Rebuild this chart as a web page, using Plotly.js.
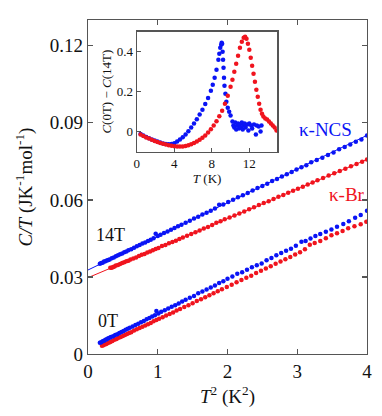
<!DOCTYPE html>
<html>
<head>
<meta charset="utf-8">
<script src="https://cdn.plot.ly/plotly-3.0.1.min.js"></script>
<style>
  html, body { margin: 0; padding: 0; background: #fff; }
  #chart { width: 382px; height: 416px; }
</style>
</head>
<body>
<div id="chart"></div>
<script>
// main panel: C/T vs T^2
var t2Ncs0 = [0.17,0.19,0.21,0.23,0.25,0.27,0.29,0.31,0.33,0.36,0.39,0.42,0.45,0.48,0.51,0.54,0.57,0.60,0.64,0.68,0.72,0.76,0.80,0.84,0.88,0.92,0.96,0.98,1.01,1.05,1.10,1.15,1.20,1.25,1.30,1.35,1.40,1.46,1.52,1.58,1.64,1.70,1.76,1.82,1.88,1.94,2.00,2.07,2.14,2.21,2.28,2.35,2.42,2.49,2.56,2.63,2.70,2.77,2.84,2.91,2.98,3.06,3.12,3.19,3.26,3.33,3.41,3.49,3.57,3.66,3.74,3.83,3.91,4.00];
var ctNcs0 = [0.0044,0.0046,0.0050,0.0052,0.0055,0.0057,0.0061,0.0063,0.0066,0.0069,0.0074,0.0077,0.0082,0.0086,0.0090,0.0094,0.0098,0.0102,0.0107,0.0113,0.0118,0.0124,0.0128,0.0135,0.0140,0.0146,0.0151,0.0167,0.0158,0.0164,0.0170,0.0177,0.0184,0.0190,0.0197,0.0204,0.0211,0.0219,0.0226,0.0236,0.0243,0.0251,0.0259,0.0267,0.0276,0.0283,0.0293,0.0302,0.0312,0.0318,0.0328,0.0338,0.0345,0.0352,0.0365,0.0374,0.0384,0.0393,0.0402,0.0410,0.0421,0.0437,0.0440,0.0450,0.0459,0.0467,0.0476,0.0485,0.0495,0.0506,0.0517,0.0530,0.0541,0.0558];

var t2Br0 = [0.20,0.22,0.24,0.26,0.28,0.30,0.32,0.35,0.38,0.41,0.44,0.47,0.50,0.53,0.56,0.59,0.62,0.66,0.70,0.74,0.78,0.82,0.86,0.90,0.94,0.98,1.02,1.07,1.12,1.17,1.22,1.27,1.32,1.38,1.44,1.50,1.56,1.62,1.68,1.74,1.80,1.86,1.92,1.99,2.06,2.13,2.20,2.27,2.34,2.41,2.48,2.55,2.62,2.69,2.76,2.83,2.90,2.97,3.04,3.11,3.18,3.25,3.33,3.41,3.49,3.57,3.65,3.73,3.82,3.91,3.99];
var ctBr0 = [0.0032,0.0034,0.0037,0.0039,0.0042,0.0045,0.0047,0.0051,0.0055,0.0058,0.0063,0.0066,0.0070,0.0074,0.0078,0.0082,0.0085,0.0091,0.0096,0.0101,0.0106,0.0111,0.0116,0.0121,0.0127,0.0132,0.0137,0.0143,0.0150,0.0156,0.0162,0.0169,0.0175,0.0183,0.0190,0.0198,0.0206,0.0213,0.0221,0.0229,0.0236,0.0244,0.0252,0.0261,0.0270,0.0279,0.0288,0.0297,0.0305,0.0315,0.0324,0.0333,0.0342,0.0351,0.0360,0.0369,0.0378,0.0387,0.0396,0.0408,0.0425,0.0432,0.0440,0.0451,0.0462,0.0470,0.0479,0.0489,0.0497,0.0505,0.0515];

var t2Ncs14 = [0.17,0.19,0.21,0.23,0.25,0.27,0.29,0.31,0.34,0.37,0.40,0.43,0.46,0.49,0.52,0.55,0.58,0.62,0.66,0.70,0.74,0.78,0.82,0.86,0.90,0.94,0.97,1.00,1.04,1.09,1.14,1.19,1.24,1.29,1.34,1.40,1.46,1.52,1.58,1.64,1.70,1.76,1.82,1.88,1.94,2.01,2.08,2.15,2.22,2.29,2.36,2.43,2.50,2.57,2.64,2.71,2.78,2.85,2.92,2.99,3.06,3.13,3.20,3.28,3.36,3.44,3.52,3.60,3.68,3.76,3.84,3.92,4.00];
var ctNcs14 = [0.0351,0.0354,0.0355,0.0360,0.0361,0.0364,0.0366,0.0368,0.0373,0.0376,0.0380,0.0384,0.0388,0.0391,0.0396,0.0399,0.0404,0.0408,0.0414,0.0419,0.0424,0.0430,0.0434,0.0440,0.0445,0.0451,0.0468,0.0459,0.0464,0.0471,0.0477,0.0484,0.0490,0.0497,0.0503,0.0511,0.0519,0.0527,0.0534,0.0543,0.0550,0.0558,0.0566,0.0581,0.0582,0.0592,0.0600,0.0610,0.0618,0.0627,0.0636,0.0646,0.0654,0.0663,0.0673,0.0681,0.0691,0.0700,0.0708,0.0718,0.0727,0.0735,0.0746,0.0755,0.0764,0.0775,0.0784,0.0797,0.0806,0.0815,0.0826,0.0835,0.0850];

var t2Br14 = [0.32,0.34,0.36,0.38,0.40,0.43,0.46,0.49,0.52,0.55,0.58,0.61,0.65,0.69,0.73,0.77,0.81,0.85,0.89,0.93,0.97,1.01,1.06,1.11,1.16,1.21,1.26,1.31,1.36,1.42,1.48,1.54,1.60,1.66,1.72,1.78,1.84,1.90,1.96,2.03,2.10,2.17,2.24,2.31,2.38,2.45,2.52,2.59,2.66,2.73,2.80,2.87,2.94,3.01,3.08,3.15,3.22,3.29,3.37,3.45,3.53,3.61,3.69,3.77,3.85,3.93,4.00];
var ctBr14 = [0.0336,0.0336,0.0339,0.0341,0.0344,0.0346,0.0350,0.0354,0.0357,0.0361,0.0363,0.0368,0.0372,0.0376,0.0381,0.0386,0.0389,0.0395,0.0399,0.0404,0.0409,0.0413,0.0420,0.0424,0.0431,0.0436,0.0441,0.0448,0.0453,0.0460,0.0467,0.0474,0.0481,0.0488,0.0494,0.0502,0.0511,0.0517,0.0524,0.0531,0.0539,0.0547,0.0555,0.0563,0.0571,0.0580,0.0588,0.0595,0.0603,0.0612,0.0619,0.0628,0.0635,0.0643,0.0651,0.0660,0.0668,0.0676,0.0685,0.0695,0.0704,0.0712,0.0721,0.0731,0.0740,0.0748,0.0757];

// linear fits to the 14T data
var fitX = [0, 4];
var fitNcs = [0.0327, 0.0851];
var fitBr = [0.0297, 0.0757];

// inset: C(0T) - C(14T) vs T
var tNcs = [0.4,0.7,1.0,1.3,1.6,1.9,2.2,2.5,2.8,3.1,3.4,3.7,4.0,4.3,4.6,4.9,5.2,5.5,5.8,6.1,6.4,6.7,7.0,7.3,7.6,7.9,8.1,8.3,8.5,8.7,8.8,8.9,9.0,9.05,9.1,9.15,9.2,9.25,9.3,9.35,9.45,9.55,9.7,9.85,10.0,10.2,10.3,10.4,10.5,10.6,10.7,10.8,10.9,11.0,11.1,11.2,11.3,11.4,11.5,11.6,11.8,11.9,12.0,12.2,12.3,12.5,12.7,12.8,13.0,13.2,13.3];
var dcNcs = [-0.012,-0.020,-0.027,-0.033,-0.039,-0.045,-0.050,-0.055,-0.059,-0.062,-0.063,-0.062,-0.058,-0.050,-0.040,-0.028,-0.014,0.002,0.020,0.040,0.062,0.085,0.110,0.138,0.168,0.205,0.235,0.270,0.310,0.360,0.390,0.420,0.435,0.445,0.440,0.400,0.360,0.320,0.270,0.230,0.190,0.150,0.120,0.100,0.080,0.050,0.030,0.020,0.045,0.010,0.030,0.040,0.015,0.035,0.020,0.045,0.010,0.030,0.040,0.020,0.035,0.005,0.040,0.030,0.015,0.035,-0.015,0.030,0.025,0.000,0.030];

var tBr = [0.4,0.7,1.0,1.3,1.6,1.9,2.2,2.5,2.8,3.1,3.4,3.7,4.0,4.3,4.6,4.9,5.2,5.5,5.8,6.1,6.4,6.7,7.0,7.3,7.6,7.9,8.2,8.5,8.8,9.1,9.4,9.7,10.0,10.2,10.4,10.6,10.8,11.0,11.2,11.4,11.55,11.7,11.85,12.0,12.15,12.3,12.45,12.6,12.75,12.9,13.05,13.2,13.35,13.5,13.7,13.9,14.1,14.3,14.5,14.7,14.9];
var dcBr = [-0.015,-0.022,-0.029,-0.035,-0.041,-0.047,-0.052,-0.057,-0.061,-0.065,-0.068,-0.071,-0.073,-0.074,-0.075,-0.074,-0.072,-0.068,-0.063,-0.057,-0.050,-0.041,-0.031,-0.019,-0.005,0.012,0.030,0.052,0.077,0.105,0.140,0.180,0.225,0.260,0.300,0.340,0.380,0.420,0.450,0.470,0.475,0.465,0.440,0.410,0.370,0.330,0.290,0.250,0.210,0.175,0.140,0.110,0.090,0.075,0.065,0.060,0.050,0.040,0.030,0.020,0.005];

var blue = 'rgb(10,20,245)';
var red = 'rgb(240,20,30)';
var serif = "'Liberation Serif', 'Times New Roman', serif";

function dots(x, y, color, xa, ya) {
  return {x: x, y: y, type: 'scatter', mode: 'markers', xaxis: xa, yaxis: ya,
    marker: {color: color, size: 4.5}, hoverinfo: 'skip'};
}

var data = [
  {x: fitX, y: fitBr, type: 'scatter', mode: 'lines', line: {color: red, width: 1}},
  {x: fitX, y: fitNcs, type: 'scatter', mode: 'lines', line: {color: blue, width: 1}},
  dots(t2Br0, ctBr0, red, 'x', 'y'),
  dots(t2Ncs0, ctNcs0, blue, 'x', 'y'),
  dots(t2Br14, ctBr14, red, 'x', 'y'),
  dots(t2Ncs14, ctNcs14, blue, 'x', 'y'),
  dots(tNcs, dcNcs, blue, 'x2', 'y2'),
  dots(tBr, dcBr, red, 'x2', 'y2')
];

var axisCommon = {
  showgrid: false, zeroline: false, showline: true, linecolor: '#555', linewidth: 1.3,
  ticks: 'inside', tickcolor: '#555', tickwidth: 1.3, ticklen: 5
};

var layout = {
  width: 382, height: 416,
  margin: {l: 88, r: 15, t: 20, b: 62},
  showlegend: false,
  paper_bgcolor: '#fff', plot_bgcolor: '#fff',
  font: {family: serif, size: 18, color: '#111'},
  xaxis: Object.assign({}, axisCommon, {
    range: [0, 4], tickvals: [0, 1, 2, 3, 4], mirror: 'ticks',
    tickfont: {family: serif, size: 19},
    title: {text: '<i>T</i><sup>2</sup> (K<sup>2</sup>)', font: {family: serif, size: 19}, standoff: 8}
  }),
  yaxis: Object.assign({}, axisCommon, {
    range: [0, 0.13], tickvals: [0, 0.03, 0.06, 0.09, 0.12],
    ticktext: ['0', '0.03', '0.06', '0.09', '0.12'], mirror: 'ticks',
    tickfont: {family: serif, size: 19},
    title: {text: '<i>C/T</i> (JK<sup>-1</sup>mol<sup>-1</sup>)', font: {family: serif, size: 19}, standoff: 12}
  }),
  xaxis2: Object.assign({}, axisCommon, {
    domain: [0.175, 0.679], anchor: 'y2', range: [0, 15], tickvals: [0, 4, 8, 12],
    mirror: true, ticklen: 4, tickfont: {family: serif, size: 13},
    title: {text: '<i>T</i> (K)', font: {family: serif, size: 13}, standoff: 2}
  }),
  yaxis2: Object.assign({}, axisCommon, {
    domain: [0.606, 0.965], anchor: 'x2', range: [-0.1, 0.5], tickvals: [0, 0.2, 0.4],
    ticktext: ['0', '0.2', '0.4'],
    mirror: true, ticklen: 4, tickfont: {family: serif, size: 13},
    title: {text: '<i>C</i>(0T) \u2212 <i>C</i>(14T)', font: {family: serif, size: 13}, standoff: 2}
  }),
  annotations: [
    {x: 3.41, y: 0.0874, xref: 'x', yref: 'y', text: '\u03ba-NCS', showarrow: false, font: {family: serif, color: blue, size: 19}},
    {x: 3.71, y: 0.0622, xref: 'x', yref: 'y', text: '\u03ba-Br', showarrow: false, font: {family: serif, color: red, size: 19}},
    {x: 0.327, y: 0.0463, xref: 'x', yref: 'y', text: '14T', showarrow: false, font: {family: serif, size: 18}},
    {x: 0.287, y: 0.0129, xref: 'x', yref: 'y', text: '0T', showarrow: false, font: {family: serif, size: 18}}
  ]
};

Plotly.newPlot('chart', data, layout, {displayModeBar: false, staticPlot: true});
</script>
</body>
</html>
